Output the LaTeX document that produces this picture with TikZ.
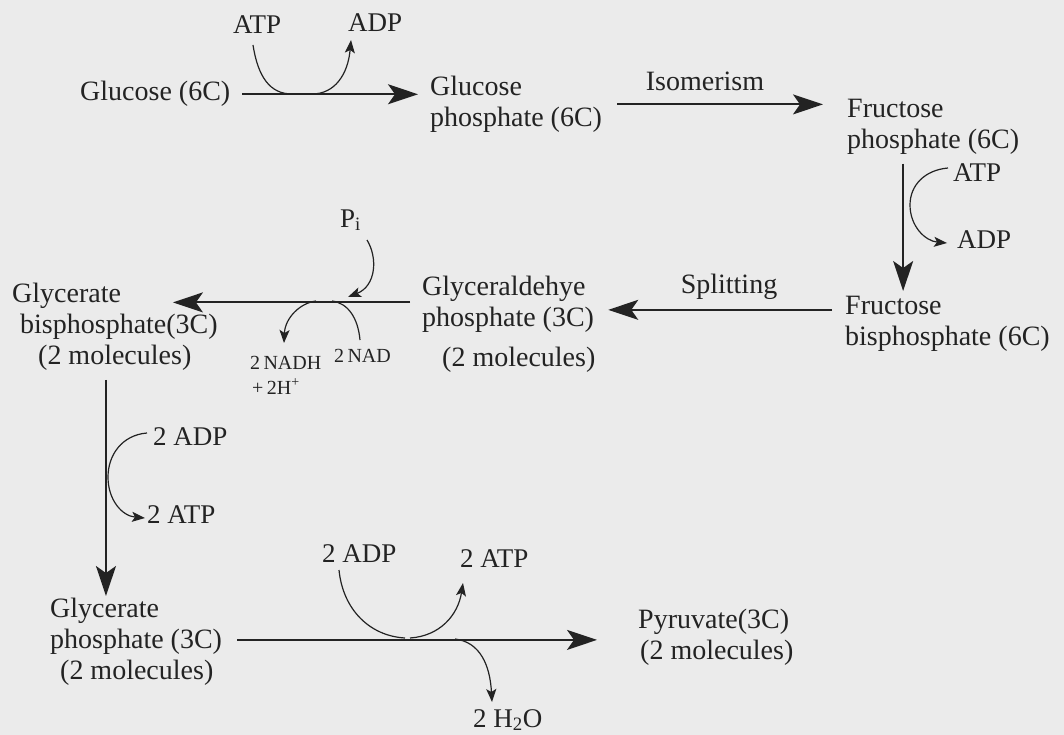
\documentclass[tikz,border=0pt]{standalone}
\usepackage{fontspec}
\setmainfont{Liberation Serif}
\usetikzlibrary{arrows.meta,calc}
\definecolor{bg}{RGB}{235,235,235}
\definecolor{ink}{RGB}{35,35,35}
\tikzset{
  lbl/.style={inner sep=0pt, text=ink, font=\fontsize{28}{31}\selectfont, align=left},
  sml/.style={inner sep=0pt, text=ink, font=\fontsize{27}{30}\selectfont},
  tiny/.style={inner sep=0pt, text=ink, font=\fontsize{20}{22}\selectfont},
  mainarrow/.style={draw=ink, line width=1.8pt, -{Stealth[length=30pt,width=20pt,inset=7pt]}},
  sideline/.style={draw=ink, line width=1.2pt},
  sidearrow/.style={draw=ink, line width=1.2pt, -{Stealth[length=13pt,width=10pt,inset=3pt]}}
}
\begin{document}
\begin{tikzpicture}[x=1pt,y=-1pt]
\fill[bg] (0,0) rectangle (1064,735);
\useasboundingbox (0,0) rectangle (1064,735);

% ---- labels ----
\node[lbl, anchor=base west] (glc) at (80,101) {Glucose (6C)};
\node[lbl, anchor=north west] (gp) at (430,76) {Glucose\\phosphate (6C)};
\node[lbl, anchor=base] (iso) at (705,91) {Isomerism};
\node[lbl, anchor=north west] (fp) at (847,99) {Fructose\\phosphate (6C)};
\node[lbl, anchor=north west] (fbp) at (845,296) {Fructose\\bisphosphate (6C)};
\node[lbl, anchor=base] (split) at (729,293) {Splitting};
\node[lbl, anchor=north west] (gap) at (422,276) {Glyceraldehye\\phosphate (3C)};
\node[lbl, anchor=base west] (gapm) at (442,366) {(2 molecules)};
\node[lbl, anchor=north west] (gbp) at (12,283) {Glycerate\\\hspace*{8pt}bisphosphate(3C)\\\hspace*{26pt}(2 molecules)};
\node[lbl, anchor=north west] (gp3) at (50,598) {Glycerate\\phosphate (3C)\\\hspace*{10pt}(2 molecules)};
\node[lbl, anchor=north west] (pyr) at (638,609) {Pyruvate(3C)\\\hspace*{2pt}(2 molecules)};

\node[sml, anchor=base west] (atpa) at (233,34) {ATP};
\node[sml, anchor=base west] (adpa) at (348,32) {ADP};
\node[sml, anchor=base west] (atpb) at (953,182) {ATP};
\node[sml, anchor=base west] (adpb) at (957,248) {ADP};
\node[sml, anchor=base west] (pi) at (340,227) {P\textsubscript{i}};
\node[tiny, anchor=base west] (nadh) at (250,369) {2\,NADH};
\node[tiny, anchor=base west] (hplus) at (252,394) {+\,2H\textsuperscript{+}};
\node[tiny, anchor=base west] (nad) at (334,362) {2\,NAD};
\node[sml, anchor=base west] (adpc) at (153,445) {2 ADP};
\node[sml, anchor=base west] (atpc) at (147,523) {2 ATP};
\node[sml, anchor=base west] (adpd) at (322,562) {2 ADP};
\node[sml, anchor=base west] (atpd) at (460,567) {2 ATP};
\node[sml, anchor=base west] (water) at (473,727) {2 H\textsubscript{2}O};

% ---- main arrows ----
\path (glc.east) ++(12,0) coordinate (a1s);
\draw[mainarrow, shorten >=12pt] (a1s) -- (a1s -| gp.west);
\path (gp.east) ++(15,0) coordinate (a2s);
\draw[mainarrow, shorten >=24pt] (a2s) -- (a2s -| fp.west);
\path (fp.south) ++(-30,9) coordinate (a3s);
\draw[mainarrow, shorten >=5pt] (a3s) -- (a3s |- fbp.north);
\path (fbp.west) ++(-13,-14) coordinate (a4s);
\draw[mainarrow, shorten >=14pt] (a4s) -- (a4s -| gap.east);
\path (gap.west) ++(-12,-2) coordinate (a5s);
\draw[mainarrow] (a5s) -- ([xshift=-45pt]a5s -| gbp.east);
\path (gbp.south) ++(-9,9) coordinate (a6s);
\draw[mainarrow, shorten >=2pt] (a6s) -- (a6s |- gp3.north);
\path (gp3.east) ++(15,-2) coordinate (a7s);
\draw[mainarrow, shorten >=41pt] (a7s) -- (a7s -| pyr.west);

% ---- side curves ----
\draw[sideline] (253,45) .. controls (258,77) and (270,94) .. (292,94);
\draw[sidearrow] (312,94) .. controls (335,94) and (348,74) .. (351,40);

\draw[sidearrow] (948,168) .. controls (925,170) and (910,185) .. (910,205)
                 .. controls (910,226) and (925,241) .. (947,243);

\draw[sidearrow] (367,240) .. controls (378,258) and (376,286) .. (348,297);
\draw[sidearrow] (316,301) .. controls (300,303) and (285,318) .. (284,343);
\draw[sideline] (332,301) .. controls (348,303) and (358,318) .. (360,340);

\draw[sidearrow] (147,433) .. controls (122,435) and (108,455) .. (108,477)
                 .. controls (108,500) and (122,516) .. (145,518);

\draw[sideline] (339,570) .. controls (343,610) and (370,636) .. (405,638);
\draw[sidearrow] (410,638) .. controls (440,636) and (458,615) .. (463,583);
\draw[sidearrow] (455,639) .. controls (480,642) and (490,665) .. (492,702);
\end{tikzpicture}
\end{document}
